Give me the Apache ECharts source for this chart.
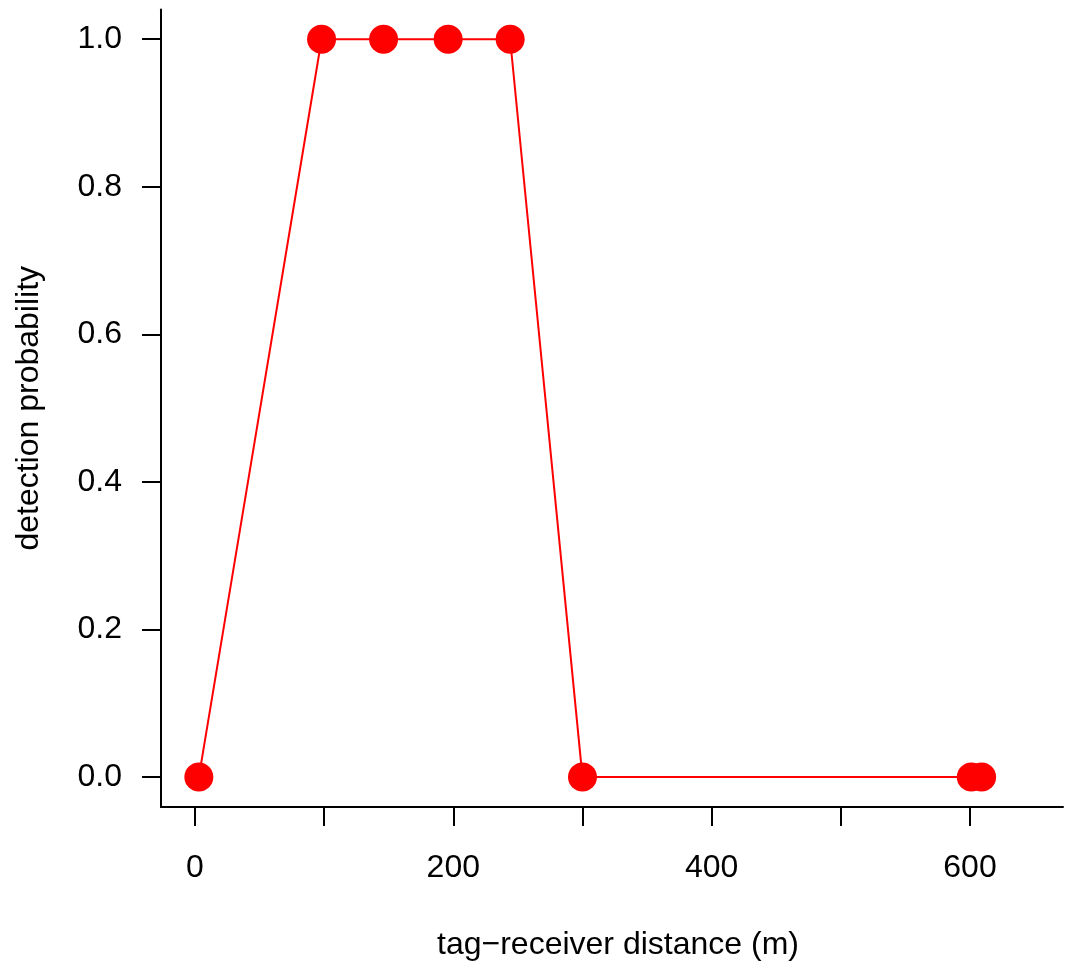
<!DOCTYPE html>
<html>
<head>
<meta charset="utf-8">
<script src="https://cdn.jsdelivr.net/npm/echarts@6/dist/echarts.min.js"></script>
<style>html,body{margin:0;padding:0;background:#fff;}#c{width:1070px;height:966px;}</style>
</head>
<body>
<div id="c"></div>
<script>
const distances = [3, 98, 146, 196, 244, 300, 601, 609];
const probabilities = [0, 1, 1, 1, 1, 0, 0, 0];
const xTickValues = [0, 100, 200, 300, 400, 500, 600];
const xLabelValues = [0, 200, 400, 600];
const yTickValues = [0, 0.2, 0.4, 0.6, 0.8, 1.0];
const xTitle = 'tag\u2212receiver distance (m)';
const yTitle = 'detection probability';

const font = 'Liberation Sans, Arial, Helvetica, sans-serif';
const chart = echarts.init(document.getElementById('c'), null, {renderer: 'canvas'});
chart.setOption({
  animation: false,
  backgroundColor: '#ffffff',
  grid: {left: 161, top: 9.5, width: 902, height: 799.5, containLabel: false},
  xAxis: {
    type: 'value', min: -26.3, max: 672,
    axisLine: {show: true, onZero: false, lineStyle: {color: '#000', width: 2}},
    axisTick: {show: true, length: 19, lineStyle: {color: '#000', width: 2}, customValues: xTickValues},
    axisLabel: {show: true, margin: 45, color: '#000', fontSize: 32, fontFamily: font, customValues: xLabelValues, formatter: v => String(v)},
    splitLine: {show: false},
    name: xTitle, nameLocation: 'middle', nameGap: 122,
    nameTextStyle: {color: '#000', fontSize: 32, fontFamily: font, padding: [0, 0, 0, 12]}
  },
  yAxis: {
    type: 'value', min: -0.0406, max: 1.0403,
    axisLine: {show: true, onZero: false, lineStyle: {color: '#000', width: 2}},
    axisTick: {show: true, length: 19, lineStyle: {color: '#000', width: 2}, customValues: yTickValues},
    axisLabel: {show: true, margin: 39, color: '#000', fontSize: 32, fontFamily: font, customValues: yTickValues, formatter: v => v.toFixed(1)},
    splitLine: {show: false},
    name: yTitle, nameLocation: 'middle', nameGap: 116, nameRotate: 90,
    nameTextStyle: {color: '#000', fontSize: 32, fontFamily: font}
  },
  series: [{
    type: 'line',
    data: distances.map((d, i) => [d, probabilities[i]]),
    symbol: 'circle', symbolSize: 29,
    lineStyle: {color: '#ff0000', width: 2},
    itemStyle: {color: '#ff0000'},
    clip: false
  }]
});
</script>
</body>
</html>
